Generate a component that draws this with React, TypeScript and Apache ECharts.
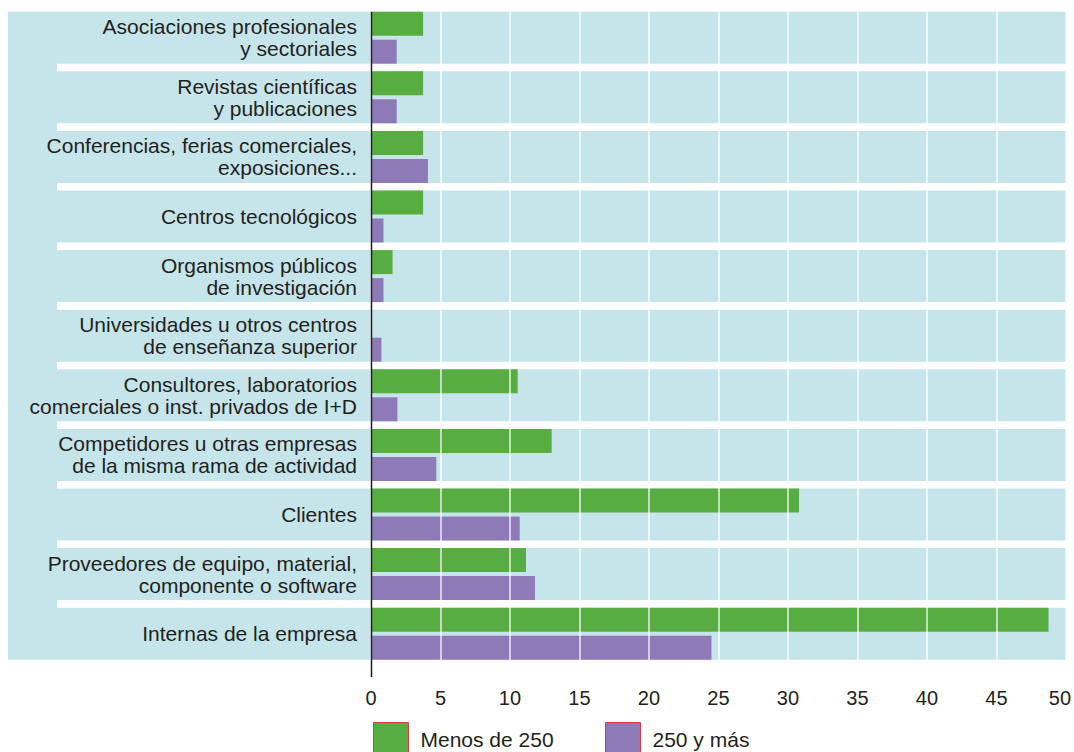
import React, { useEffect, useRef } from "react";
import * as echarts from "echarts";

const categories: string[] = [
  "Asociaciones profesionales\ny sectoriales",
  "Revistas científicas\ny publicaciones",
  "Conferencias, ferias comerciales,\nexposiciones...",
  "Centros tecnológicos",
  "Organismos públicos\nde investigación",
  "Universidades u otros centros\nde enseñanza superior",
  "Consultores, laboratorios\ncomerciales o inst. privados de I+D",
  "Competidores u otras empresas\nde la misma rama de actividad",
  "Clientes",
  "Proveedores de equipo, material,\ncomponente o software",
  "Internas de la empresa",
];

const seriesNames: string[] = ["Menos de 250", "250 y más"];
const menosDe250: number[] = [3.75, 3.75, 3.75, 3.75, 1.55, 0, 10.55, 13.0, 30.8, 11.15, 48.75];
const masDe250: number[] = [1.85, 1.85, 4.1, 0.9, 0.9, 0.75, 1.9, 4.7, 10.7, 11.8, 24.5];
const xTicks: number[] = [0, 5, 10, 15, 20, 25, 30, 35, 40, 45, 50];

const FONT = "'Liberation Sans', Arial, Helvetica, sans-serif";
const TEXT = "#231f20";
const GREEN = "#57ad41";
const PURPLE = "#8f7ab8";
const BAND = "#c6e5ea";

export default function App() {
  const ref = useRef<HTMLDivElement>(null);

  useEffect(() => {
    document.body.style.margin = "0";
    document.body.style.overflow = "hidden";
    if (!ref.current) return;
    const chart = echarts.init(ref.current, undefined, { renderer: "svg" });

    const W = 1074;
    const H = 752;
    const GRID_LEFT = 371;
    const GRID_RIGHT = 8;
    const GRID_TOP = 7.9;
    const GRID_H = 655.6;
    const N = categories.length;
    const pitch = GRID_H / N;
    const SEP = 7.6;

    const graphics: any[] = [];
    graphics.push({
      type: "rect",
      z: -10,
      silent: true,
      shape: { x: 8, y: GRID_TOP + SEP / 2, width: W - GRID_RIGHT - 8, height: GRID_H - SEP },
      style: { fill: BAND },
    });
    for (let i = 1; i < N; i++) {
      graphics.push({
        type: "rect",
        z: -9,
        silent: true,
        shape: { x: 57, y: GRID_TOP + i * pitch - SEP / 2, width: W - GRID_RIGHT - 57, height: SEP },
        style: { fill: "#ffffff" },
      });
    }
    graphics.push({
      type: "line",
      z: 50,
      silent: true,
      shape: { x1: GRID_LEFT + 0.5, y1: GRID_TOP + SEP / 2, x2: GRID_LEFT + 0.5, y2: 677 },
      style: { stroke: TEXT, lineWidth: 1.5 },
    });

    const legendCommon = {
      orient: "horizontal",
      top: 722,
      padding: 0,
      itemWidth: 35,
      itemHeight: 34,
      icon: "rect",
      selectedMode: false,
      itemStyle: { borderColor: "#e2343c", borderWidth: 1 },
      textStyle: { fontSize: 21, color: TEXT, fontFamily: FONT, padding: [0, 0, 0, 7] },
    };

    chart.setOption({
      animation: false,
      backgroundColor: "#ffffff",
      textStyle: { fontFamily: FONT },
      graphic: { elements: graphics },
      legend: [
        { ...legendCommon, left: 373, data: [seriesNames[0]] },
        { ...legendCommon, left: 605, data: [seriesNames[1]] },
      ],
      grid: { left: GRID_LEFT, right: GRID_RIGHT, top: GRID_TOP, bottom: H - GRID_TOP - GRID_H, containLabel: false },
      xAxis: {
        type: "value",
        min: xTicks[0],
        max: xTicks[xTicks.length - 1],
        interval: xTicks[1] - xTicks[0],
        z: 5,
        axisLine: { show: false },
        axisTick: { show: false },
        splitLine: { show: true, lineStyle: { color: "rgba(255,255,255,0.8)", width: 1.6 } },
        axisLabel: {
          margin: 24.5,
          fontSize: 20,
          color: TEXT,
          fontFamily: FONT,
          formatter: (v: number) => (v === xTicks[xTicks.length - 1] ? "{m|" + v + "}" : String(v)),
          rich: { m: { fontSize: 20, color: TEXT, fontFamily: FONT, padding: [0, 12, 0, 0] } },
        },
      },
      yAxis: {
        type: "category",
        data: categories,
        inverse: true,
        axisLine: { show: false },
        axisTick: { show: false },
        splitLine: { show: false },
        axisLabel: {
          margin: 14,
          fontSize: 21,
          lineHeight: 22,
          color: TEXT,
          fontFamily: FONT,
          align: "right",
        },
      },
      series: [
        {
          name: seriesNames[0],
          type: "bar",
          data: menosDe250,
          barWidth: 24,
          barGap: "16.7%",
          itemStyle: { color: GREEN },
          z: 2,
        },
        {
          name: seriesNames[1],
          type: "bar",
          data: masDe250,
          barWidth: 24,
          barGap: "16.7%",
          itemStyle: { color: PURPLE },
          z: 2,
        },
      ],
    });

    return () => {
      chart.dispose();
    };
  }, []);

  return <div ref={ref} style={{ width: 1074, height: 752 }} />;
}
